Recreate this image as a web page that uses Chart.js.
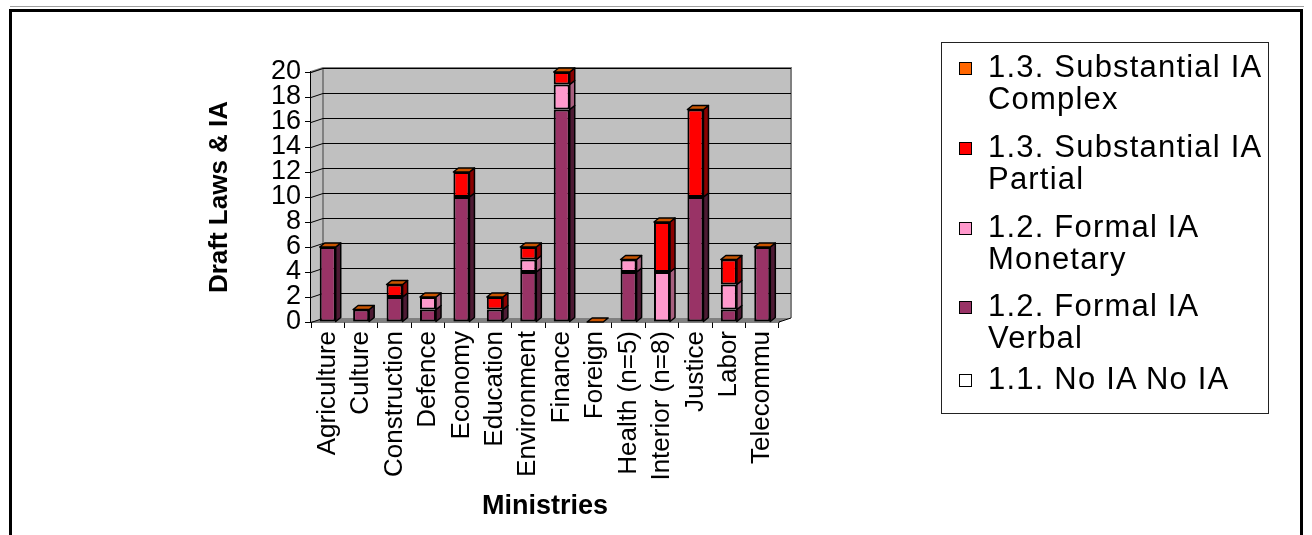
<!DOCTYPE html>
<html>
<head>
<meta charset="utf-8">
<script src="https://cdn.jsdelivr.net/npm/chart.js@4.4.1/dist/chart.umd.min.js"></script>
<style>
  html, body { margin: 0; padding: 0; background: #fff; }
  body { width: 1312px; height: 535px; position: relative; overflow: hidden; font-family: "Liberation Sans", Arial, sans-serif; }
  #topline { position: absolute; left: 10px; top: 6px; width: 1294px; height: 1px; background: #a0a0a0; }
  #frame { position: absolute; left: 9px; top: 9px; width: 1294px; height: 600px; border: 3px solid #000; box-sizing: border-box; }
  #chart { position: absolute; left: 0; top: 0; }
  #legend { position: absolute; left: 941px; top: 42px; width: 328px; height: 372px; border: 1px solid #222; box-sizing: border-box; }
  .item { position: absolute; left: 46px; font-size: 31px; line-height: 32px; letter-spacing: 1.2px; color: #000; white-space: nowrap; }
  .sw { position: absolute; left: -29px; top: 11px; width: 13px; height: 13px; border: 1px solid #000; box-sizing: border-box; }
</style>
</head>
<body>
<div id="topline"></div>
<div id="frame"></div>
<canvas id="chart" width="1312" height="535"></canvas>
<div id="legend"></div>
<script>
const categories = ['Agriculture', 'Culture', 'Construction', 'Defence', 'Economy', 'Education', 'Environment',
  'Finance', 'Foreign', 'Health (n=5)', 'Interior (n=8)', 'Justice', 'Labor', 'Telecommu'];
const noIA     = [0, 0, 0, 0, 0, 0, 0, 0, 0, 0, 0, 0, 0, 0];
const verbal   = [6, 1, 2, 1, 10, 1, 4, 17, 0, 4, 0, 10, 1, 6];
const monetary = [0, 0, 0, 1, 0, 0, 1, 2, 0, 1, 4, 0, 2, 0];
const partial  = [0, 0, 1, 0, 2, 1, 1, 1, 0, 0, 4, 7, 2, 0];
const complexIA = [0, 0, 0, 0, 0, 0, 0, 0, 0, 0, 0, 0, 0, 0];
const yTicks = [0, 2, 4, 6, 8, 10, 12, 14, 16, 18, 20];

// bottom to top of the stack
const series = [
  { label: ['1.1. No IA No IA'], data: noIA, color: '#FFFFFF', side: '#aaaaaa' },
  { label: ['1.2. Formal IA', 'Verbal'], data: verbal, color: '#993366', side: '#4d1a33' },
  { label: ['1.2. Formal IA', 'Monetary'], data: monetary, color: '#FF99CC', side: '#a8607f' },
  { label: ['1.3. Substantial IA', 'Partial'], data: partial, color: '#FF0000', side: '#8a0000' },
  { label: ['1.3. Substantial IA', 'Complex'], data: complexIA, color: '#FF6600', side: '#a34100' }
];

// wall depth and bar depth of the fake 3d look
const WALL_DX = 12, WALL_DY = -4;
const BAR_DX = 5, BAR_DY = -4;

const walls3d = {
  id: 'walls3d',
  beforeDatasetsDraw(chart) {
    const { ctx, chartArea: a } = chart;
    const y = chart.scales.y;
    ctx.save();
    // back wall
    ctx.fillStyle = '#C0C0C0';
    ctx.fillRect(a.left + WALL_DX, a.top + WALL_DY, a.right - a.left, a.bottom - a.top);
    // side wall
    ctx.beginPath();
    ctx.moveTo(a.left, a.top);
    ctx.lineTo(a.left + WALL_DX, a.top + WALL_DY);
    ctx.lineTo(a.left + WALL_DX, a.bottom + WALL_DY);
    ctx.lineTo(a.left, a.bottom);
    ctx.closePath();
    ctx.fill();
    // floor
    ctx.fillStyle = '#808080';
    ctx.beginPath();
    ctx.moveTo(a.left, a.bottom);
    ctx.lineTo(a.left + WALL_DX, a.bottom + WALL_DY);
    ctx.lineTo(a.right + WALL_DX, a.bottom + WALL_DY);
    ctx.lineTo(a.right, a.bottom);
    ctx.closePath();
    ctx.fill();
    // wall edges
    ctx.strokeStyle = '#808080';
    ctx.lineWidth = 2;
    ctx.beginPath();
    ctx.moveTo(a.left, a.top);
    ctx.lineTo(a.left + WALL_DX, a.top + WALL_DY);
    ctx.lineTo(a.right + WALL_DX, a.top + WALL_DY);
    ctx.lineTo(a.right + WALL_DX, a.bottom + WALL_DY);
    ctx.moveTo(a.left + WALL_DX, a.top + WALL_DY);
    ctx.lineTo(a.left + WALL_DX, a.bottom + WALL_DY);
    ctx.stroke();
    // gridlines
    ctx.strokeStyle = '#000';
    ctx.lineWidth = 1;
    yTicks.forEach(v => {
      const py = Math.round(y.getPixelForValue(v)) + 0.5;
      ctx.beginPath();
      ctx.moveTo(a.left, py);
      ctx.lineTo(a.left + WALL_DX, py + WALL_DY);
      if (v > 0) ctx.lineTo(a.right + WALL_DX, py + WALL_DY);
      ctx.stroke();
    });
    ctx.beginPath();
    ctx.moveTo(a.right, a.bottom);
    ctx.lineTo(a.right + WALL_DX, a.bottom + WALL_DY);
    ctx.stroke();
    ctx.restore();
  }
};

const bars3d = {
  id: 'bars3d',
  afterDatasetsDraw(chart) {
    const { ctx } = chart;
    ctx.save();
    ctx.lineWidth = 1.5;
    ctx.strokeStyle = '#000';
    ctx.lineJoin = 'round';
    categories.forEach((c, i) => {
      let topEl = null;
      series.forEach((s, d) => {
        const el = chart.getDatasetMeta(d).data[i];
        if (!topEl || el.y < topEl.y) topEl = el;
        if (s.data[i] <= 0) return;
        const r = el.x + el.width / 2;
        ctx.fillStyle = s.side;
        ctx.beginPath();
        ctx.moveTo(r, el.y);
        ctx.lineTo(r + BAR_DX, el.y + BAR_DY);
        ctx.lineTo(r + BAR_DX, el.base + BAR_DY);
        ctx.lineTo(r, el.base);
        ctx.closePath();
        ctx.fill();
        ctx.stroke();
      });
      const l = topEl.x - topEl.width / 2, r = topEl.x + topEl.width / 2, t = topEl.y;
      ctx.fillStyle = '#c95400';
      ctx.beginPath();
      ctx.moveTo(l, t);
      ctx.lineTo(l + BAR_DX, t + BAR_DY);
      ctx.lineTo(r + BAR_DX, t + BAR_DY);
      ctx.lineTo(r, t);
      ctx.closePath();
      ctx.fill();
      ctx.stroke();
    });
    ctx.restore();
  }
};

Chart.defaults.font.family = '"Liberation Sans", Arial, sans-serif';
Chart.defaults.color = '#000';

new Chart(document.getElementById('chart').getContext('2d'), {
  type: 'bar',
  data: {
    labels: categories,
    datasets: series.map(s => ({
      label: s.label.join(' '),
      data: s.data,
      backgroundColor: s.color,
      borderColor: '#000',
      borderWidth: ctx => (ctx.raw > 0 ? 2 : 0),
      borderSkipped: false,
      categoryPercentage: 1,
      barPercentage: 0.48
    }))
  },
  options: {
    responsive: false,
    devicePixelRatio: 1,
    animation: false,
    layout: { padding: { left: 200, top: 72, right: 533, bottom: 8 } },
    plugins: {
      legend: { display: false },
      tooltip: { enabled: false },
      title: { display: false }
    },
    scales: {
      x: {
        stacked: true,
        afterFit: s => { s.height = 205; },
        grid: { drawOnChartArea: false, drawTicks: true, tickLength: 6, color: '#000', lineWidth: 1 },
        border: { display: true, color: '#000', width: 1.5 },
        ticks: { autoSkip: false, minRotation: 90, maxRotation: 90, padding: 3, font: { size: 26 } },
        title: { display: true, text: 'Ministries', font: { size: 27, weight: 'bold' }, padding: { top: 4, bottom: 4 } }
      },
      y: {
        stacked: true,
        min: 0,
        max: 20,
        afterFit: s => { s.width = 111; },
        afterBuildTicks: s => { s.ticks = yTicks.map(v => ({ value: v })); },
        grid: { drawOnChartArea: false, drawTicks: true, tickLength: 6, color: '#000', lineWidth: 1 },
        border: { display: true, color: '#000', width: 1.5 },
        ticks: { autoSkip: false, padding: 4, font: { size: 27 } },
        title: { display: true, text: 'Draft Laws & IA', font: { size: 26, weight: 'bold' }, padding: { top: 4, bottom: 4 } }
      }
    }
  },
  plugins: [walls3d, bars3d]
});

// legend, top item first like the original
const legend = document.getElementById('legend');
const legendTops = [8, 88, 168, 247, 320];
series.slice().reverse().forEach((s, k) => {
  const it = document.createElement('div');
  it.className = 'item';
  it.style.top = legendTops[k] + 'px';
  it.innerHTML = '<span class="sw" style="background:' + s.color + '"></span>' + s.label.join('<br>');
  legend.appendChild(it);
});
</script>
</body>
</html>
